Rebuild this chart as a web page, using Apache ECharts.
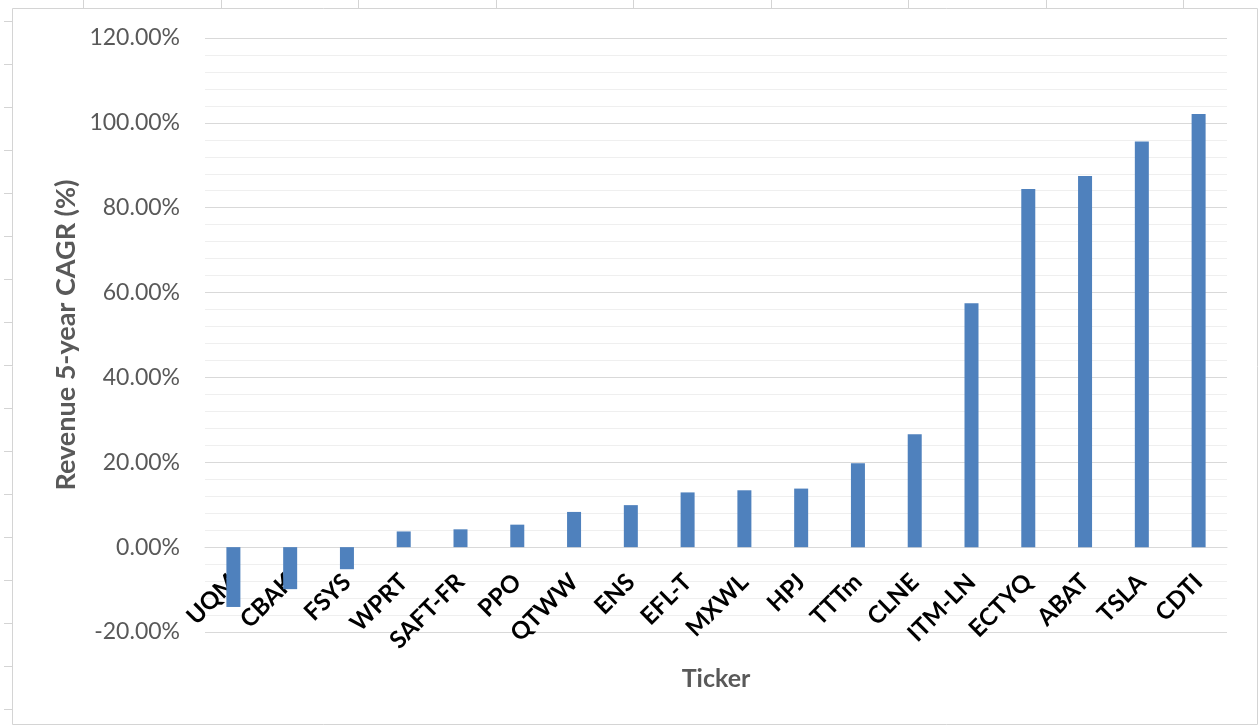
<!DOCTYPE html>
<html>
<head>
<meta charset="utf-8">
<script src="https://cdn.jsdelivr.net/npm/echarts@6/dist/echarts.min.js"></script>
<style>
html,body{margin:0;padding:0;background:#fff;}
#chart{width:1260px;height:727px;}
</style>
</head>
<body>
<div id="chart"></div>
<script>
const tickers = ['UQM','CBAK','FSYS','WPRT','SAFT-FR','PPO','QTWW','ENS','EFL-T','MXWL','HPJ','TTTm','CLNE','ITM-LN','ECTYQ','ABAT','TSLA','CDTI'];
const cagr = [-14.1,-9.9,-5.2,3.7,4.2,5.3,8.3,9.9,12.9,13.4,13.8,19.8,26.6,57.5,84.4,87.5,95.6,102.1];
const yMin = -20, yMax = 120, yStep = 20;

const chart = echarts.init(document.getElementById('chart'), null, {renderer:'canvas'});
const FONT = 'Lato, "Open Sans", sans-serif';
const frameColor = '#d4d4d4';
const gridTop = 38, gridBottom = 95;
const gridH = 727 - gridTop - gridBottom;
// move the category axis (with its labels) up to the zero line
const zeroOffset = -gridH * (0 - yMin) / (yMax - yMin);

const graphics = [
  {type:'rect', shape:{x:12.5,y:8.5,width:1245,height:716}, style:{fill:'none', stroke:frameColor, lineWidth:1}, z:-1}
];
for (let k=0;k<9;k++){
  const x = Math.round(83 + 137.5*k)+0.5;
  graphics.push({type:'line', shape:{x1:x,y1:0,x2:x,y2:8}, style:{stroke:frameColor, lineWidth:1}});
}
for (let k=0;k<17;k++){
  const y = Math.round(21 + 43*k)+0.5;
  graphics.push({type:'line', shape:{x1:4,y1:y,x2:12,y2:y}, style:{stroke:frameColor, lineWidth:1}});
}

chart.setOption({
  animation:false,
  backgroundColor:'#fff',
  textStyle:{fontFamily:FONT},
  graphic:graphics,
  grid:{left:205, right:33, top:gridTop, bottom:gridBottom, containLabel:false, outerBoundsMode:'none'},
  xAxis:{
    type:'category',
    data:tickers,
    offset:zeroOffset,
    z:1,
    name:'Ticker',
    nameLocation:'middle',
    nameGap:119,
    nameMoveOverlap:false,
    nameTextStyle:{color:'#595959', fontSize:25, fontWeight:'bold', fontFamily:FONT, verticalAlign:'top'},
    axisLine:{onZero:false, lineStyle:{color:'#d9d9d9', width:1}},
    axisTick:{show:false},
    axisLabel:{rotate:45, color:'#000', fontSize:24, fontWeight:'bold', margin:31, interval:0, fontFamily:FONT},
    splitLine:{show:false}
  },
  yAxis:{
    type:'value',
    min:yMin, max:yMax, interval:yStep,
    name:'Revenue 5-year CAGR (%)',
    nameLocation:'middle',
    nameGap:125,
    nameMoveOverlap:false,
    nameTextStyle:{color:'#595959', fontSize:27, fontWeight:'bold', fontFamily:FONT},
    axisLine:{show:false},
    axisTick:{show:false},
    axisLabel:{color:'#595959', fontSize:23, margin:25, fontFamily:FONT,
      formatter:v=>v.toFixed(2)+'%'},
    splitLine:{show:true, lineStyle:{color:'#d9d9d9', width:1}},
    minorTick:{show:false, splitNumber:5},
    minorSplitLine:{show:true, lineStyle:{color:'#efefef', width:1}}
  },
  series:[{
    type:'bar',
    z:5,
    data:cagr,
    barWidth:14,
    itemStyle:{color:'#4f81bd'}
  }]
});
</script>
</body>
</html>
